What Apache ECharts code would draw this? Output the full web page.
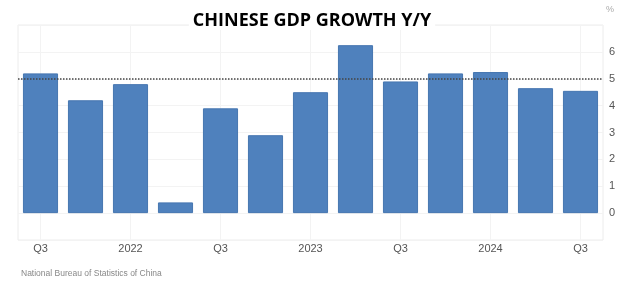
<!DOCTYPE html>
<html>
<head>
<meta charset="utf-8">
<script src="https://cdn.jsdelivr.net/npm/echarts@6/dist/echarts.min.js"></script>
<style>html,body{margin:0;padding:0;background:#fff}#c{width:624px;height:288px}</style>
</head>
<body>
<div id="c"></div>
<script>
const categories = ['Q3','Q4','2022','Q2','Q3','Q4','2023','Q2','Q3','Q4','2024','Q2','Q3'];
const gdpGrowth = [5.2, 4.2, 4.8, 0.4, 3.9, 2.9, 4.5, 6.25, 4.9, 5.2, 5.25, 4.65, 4.55];
const yTicks = [0, 1, 2, 3, 4, 5, 6];
const referenceLevel = 5;

const chart = echarts.init(document.getElementById('c'), null, {renderer: 'canvas'});
chart.setOption({
  animation: false,
  backgroundColor: '#fff',
  title: {
    text: 'CHINESE GDP GROWTH Y/Y',
    left: 'center',
    top: 12,
    padding: [0, 4, 0, 4],
    backgroundColor: '#fff',
    textStyle: {fontFamily: 'Open Sans', fontWeight: 'bold', fontSize: 18, color: '#000'}
  },
  grid: {left: 18, right: 21, top: 25, height: 215, show: true, borderColor: '#ececec', borderWidth: 1},
  xAxis: {
    type: 'category',
    data: categories,
    boundaryGap: true,
    axisLine: {show: false},
    axisTick: {show: false, alignWithLabel: true},
    axisLabel: {interval: 1, margin: 3, color: '#555', fontFamily: 'Liberation Sans', fontSize: 11},
    splitLine: {show: true, interval: 1, alignWithLabel: true, lineStyle: {color: '#f3f3f3'}}
  },
  yAxis: {
    type: 'value',
    position: 'right',
    min: -1, max: 7, interval: 1,
    axisLine: {show: false},
    axisTick: {show: false},
    splitLine: {show: true, lineStyle: {color: '#f3f3f3'}},
    axisLabel: {
      margin: 6, color: '#555', fontFamily: 'Liberation Sans', fontSize: 11,
      formatter: v => yTicks.indexOf(v) >= 0 ? String(v) : ''
    }
  },
  series: [
    {
      type: 'line', data: [], z: 1, silent: true,
      markLine: {
        symbol: 'none', silent: true, label: {show: false},
        lineStyle: {type: 'dotted', color: '#444', width: 1.5},
        data: [{yAxis: referenceLevel}]
      }
    },
    {
      type: 'bar', data: gdpGrowth, z: 2,
      barCategoryGap: '22%',
      itemStyle: {color: '#4f81bd', borderColor: '#4676b0', borderWidth: 1}
    }
  ],
  graphic: [
    {type: 'text', left: 606, top: 5, style: {text: '%', fill: '#aaa', font: '9px "Liberation Sans"'}},
    {type: 'text', left: 21, top: 269, style: {text: 'National Bureau of Statistics of China', fill: '#888', font: '8.5px "Liberation Sans"'}}
  ]
});
</script>
</body>
</html>
